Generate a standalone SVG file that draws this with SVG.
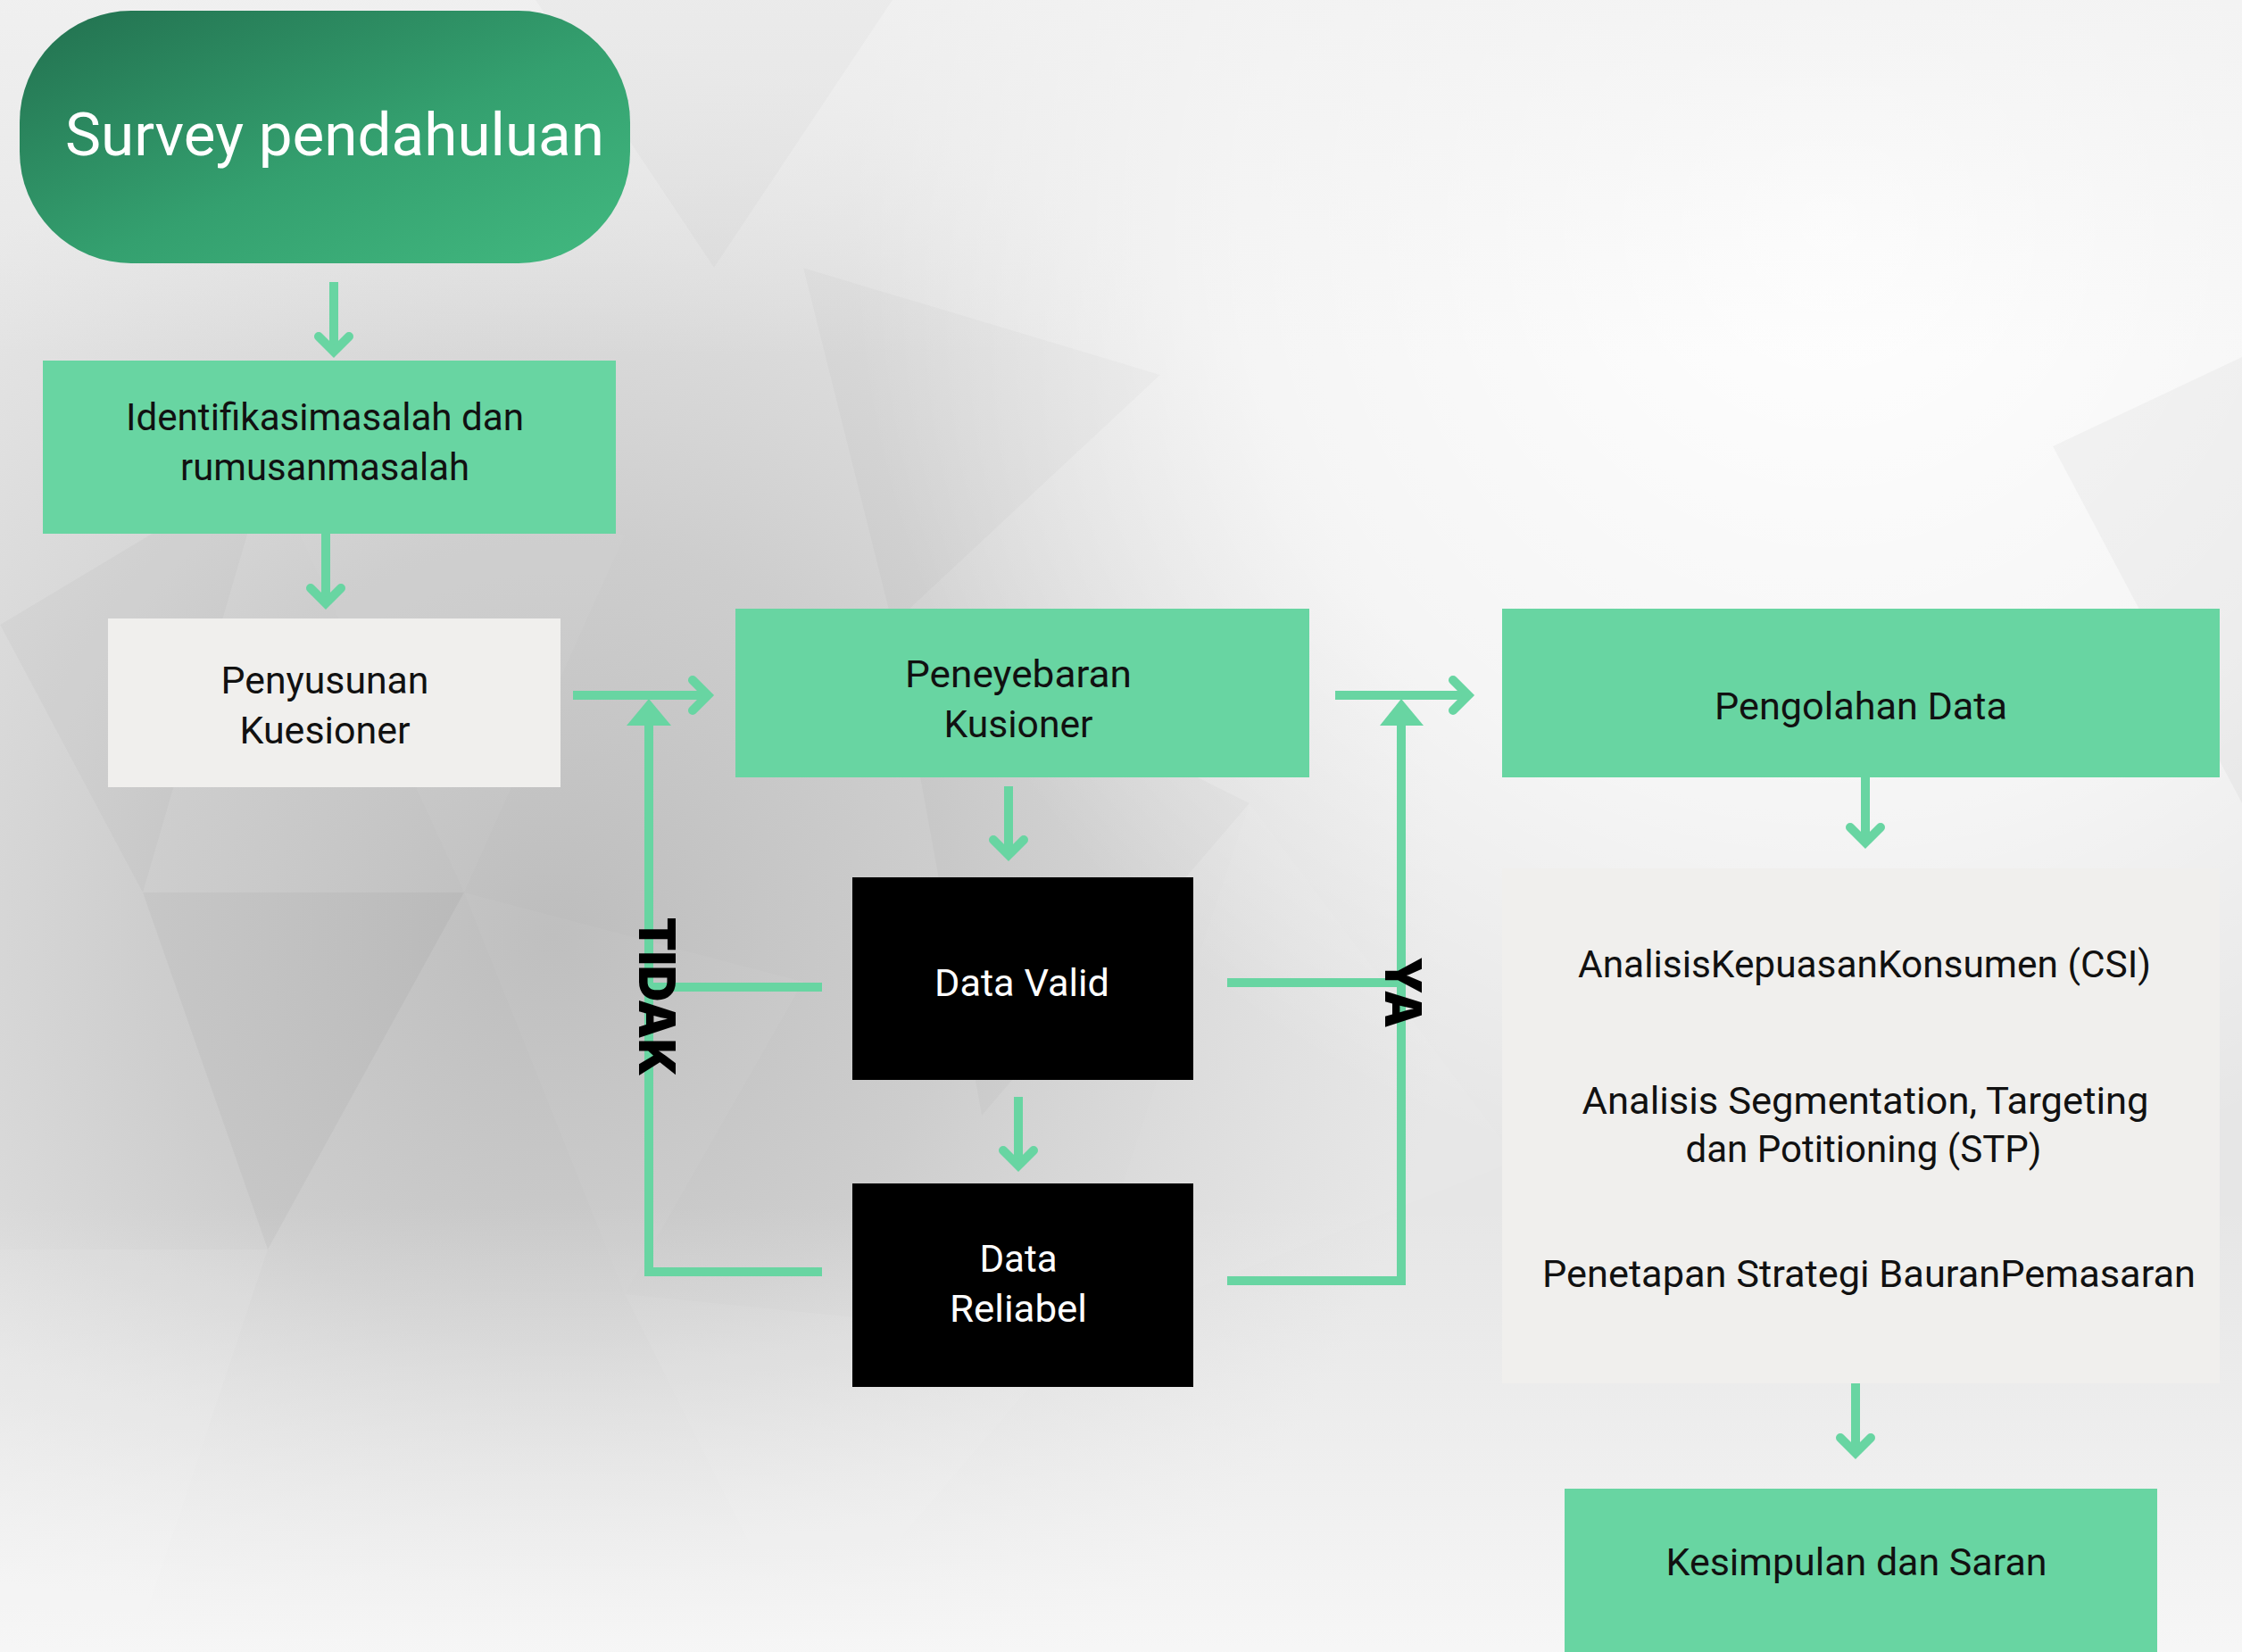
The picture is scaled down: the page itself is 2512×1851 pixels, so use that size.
<svg xmlns="http://www.w3.org/2000/svg" width="2512" height="1851" viewBox="0 0 2512 1851">
<defs>
<style>
.g{fill:#68D5A2}
.w{fill:#F0EFED}
.k{fill:#000000}
.t{font-family:Roboto,"Liberation Sans",sans-serif;font-size:42px;fill:#111111;text-anchor:middle}
.tw{fill:#ffffff}
.c{stroke:#68D5A2;stroke-width:10;fill:none}
.a{marker-end:url(#chev)}
.lbl{font-family:Inter,"Liberation Sans",Arial,sans-serif;font-weight:900;font-size:57px;fill:#000;text-anchor:middle}
.hd{fill:#68D5A2}
</style>
<marker id="chev" markerUnits="userSpaceOnUse" markerWidth="60" markerHeight="60" refX="0" refY="0" orient="auto" overflow="visible">
<path d="M -17 -17 L 0 0 L -17 17" fill="none" stroke="#68D5A2" stroke-width="10" stroke-linecap="round" stroke-linejoin="miter"/>
</marker>
<linearGradient id="pill" x1="0" y1="0" x2="1" y2="1">
<stop offset="0" stop-color="#22704F"/>
<stop offset="0.55" stop-color="#34A06F"/>
<stop offset="1" stop-color="#42B980"/>
</linearGradient>
<radialGradient id="dark" cx="620" cy="1050" r="1000" gradientUnits="userSpaceOnUse">
<stop offset="0" stop-color="#bdbdbd" stop-opacity="1"/>
<stop offset="0.45" stop-color="#c9c9c9" stop-opacity="0.85"/>
<stop offset="1" stop-color="#d0d0d0" stop-opacity="0"/>
</radialGradient>
<radialGradient id="light" cx="2050" cy="250" r="1100" gradientUnits="userSpaceOnUse">
<stop offset="0" stop-color="#ffffff" stop-opacity="1"/>
<stop offset="0.6" stop-color="#ffffff" stop-opacity="0.6"/>
<stop offset="1" stop-color="#ffffff" stop-opacity="0"/>
</radialGradient>
<linearGradient id="bottom" x1="0" y1="1350" x2="0" y2="1851" gradientUnits="userSpaceOnUse">
<stop offset="0" stop-color="#f4f4f4" stop-opacity="0"/>
<stop offset="1" stop-color="#f7f7f7" stop-opacity="0.95"/>
</linearGradient>
<linearGradient id="topl" x1="0" y1="0" x2="0" y2="400" gradientUnits="userSpaceOnUse">
<stop offset="0" stop-color="#f2f2f2" stop-opacity="0.8"/>
<stop offset="1" stop-color="#f2f2f2" stop-opacity="0"/>
</linearGradient>
</defs>

<g id="background">
<rect x="0" y="0" width="2512" height="1851" fill="#e6e6e6"/>
<rect x="0" y="0" width="2512" height="1851" fill="url(#dark)"/>
<rect x="0" y="0" width="2512" height="1851" fill="url(#light)"/>
<rect x="0" y="0" width="2512" height="1851" fill="url(#topl)"/>
<rect x="0" y="0" width="2512" height="1851" fill="url(#bottom)"/>
<polygon points="0,700 300,520 160,1000" fill="#000" fill-opacity="0.025"/>
<polygon points="300,520 700,600 520,1000" fill="#fff" fill-opacity="0.04"/>
<polygon points="160,1000 520,1000 300,1400" fill="#000" fill-opacity="0.03"/>
<polygon points="520,1000 900,1100 700,1450" fill="#fff" fill-opacity="0.04"/>
<polygon points="900,300 1300,420 1000,700" fill="#000" fill-opacity="0.02"/>
<polygon points="1300,420 1700,250 1600,650" fill="#fff" fill-opacity="0.06"/>
<polygon points="1000,700 1400,900 1100,1250" fill="#000" fill-opacity="0.02"/>
<polygon points="1400,900 1700,1300 1200,1500" fill="#fff" fill-opacity="0.05"/>
<polygon points="0,1400 300,1400 150,1851 0,1851" fill="#fff" fill-opacity="0.08"/>
<polygon points="700,1450 1200,1500 900,1851" fill="#fff" fill-opacity="0.06"/>
<polygon points="2300,500 2512,400 2512,900" fill="#000" fill-opacity="0.03"/>
<polygon points="600,0 1000,0 800,300" fill="#000" fill-opacity="0.02"/>
</g>

<g id="connectors">
<line class="c a" x1="374" y1="316" x2="374" y2="394"/>
<line class="c a" x1="365" y1="598" x2="365" y2="676"/>
<line class="c a" x1="642" y1="779" x2="793" y2="779"/>
<line class="c a" x1="1130" y1="881" x2="1130" y2="958"/>
<line class="c a" x1="1141" y1="1229" x2="1141" y2="1306"/>
<line class="c a" x1="1496" y1="779" x2="1645" y2="779"/>
<line class="c a" x1="2090" y1="871" x2="2090" y2="944"/>
<line class="c a" x1="2079" y1="1550" x2="2079" y2="1628"/>
<g id="tidak-loop">
<line class="c" x1="921" y1="1106" x2="727" y2="1106"/>
<polyline class="c" points="921,1425 727,1425 727,810"/>
<polygon class="hd" points="702,813 752,813 727,783"/>
</g>
<g id="ya-loop">
<line class="c" x1="1375" y1="1101" x2="1570" y2="1101"/>
<polyline class="c" points="1375,1435 1570,1435 1570,810"/>
<polygon class="hd" points="1546,813 1595,813 1570,783"/>
</g>
<text class="lbl" transform="translate(716,1117) rotate(90)" textLength="179" lengthAdjust="spacingAndGlyphs">TIDAK</text>
<text class="lbl" transform="translate(1552,1112) rotate(90)" textLength="80" lengthAdjust="spacingAndGlyphs">YA</text>
</g>

<g id="node-survey">
<rect x="22" y="12" width="684" height="283" rx="125" ry="125" fill="url(#pill)"/>
<text class="t tw" x="375" y="174" style="font-size:66px" textLength="604" lengthAdjust="spacingAndGlyphs">Survey pendahuluan</text>
</g>

<g id="node-identifikasi">
<rect class="g" x="48" y="404" width="642" height="194"/>
<text class="t" x="364" y="482" textLength="446" lengthAdjust="spacingAndGlyphs">Identifikasimasalah dan</text>
<text class="t" x="364" y="538" textLength="324" lengthAdjust="spacingAndGlyphs">rumusanmasalah</text>
</g>

<g id="node-penyusunan">
<rect class="w" x="121" y="693" width="507" height="189"/>
<text class="t" x="364" y="777" textLength="233" lengthAdjust="spacingAndGlyphs">Penyusunan</text>
<text class="t" x="364" y="833" textLength="191" lengthAdjust="spacingAndGlyphs">Kuesioner</text>
</g>

<g id="node-peneyebaran">
<rect class="g" x="824" y="682" width="643" height="189"/>
<text class="t" x="1141" y="770" textLength="254" lengthAdjust="spacingAndGlyphs">Peneyebaran</text>
<text class="t" x="1141" y="826" textLength="167" lengthAdjust="spacingAndGlyphs">Kusioner</text>
</g>

<g id="node-datavalid">
<rect class="k" x="955" y="983" width="382" height="227"/>
<text class="t tw" x="1145" y="1116" textLength="196" lengthAdjust="spacingAndGlyphs">Data Valid</text>
</g>

<g id="node-datareliabel">
<rect class="k" x="955" y="1326" width="382" height="228"/>
<text class="t tw" x="1141" y="1425" textLength="87" lengthAdjust="spacingAndGlyphs">Data</text>
<text class="t tw" x="1141" y="1481" textLength="154" lengthAdjust="spacingAndGlyphs">Reliabel</text>
</g>

<g id="node-pengolahan">
<rect class="g" x="1683" y="682" width="804" height="189"/>
<text class="t" x="2085" y="806" textLength="328" lengthAdjust="spacingAndGlyphs">Pengolahan Data</text>
</g>

<g id="node-analisis">
<rect class="w" x="1683" y="973" width="804" height="577"/>
<text class="t" x="2089" y="1095" textLength="642" lengthAdjust="spacingAndGlyphs">AnalisisKepuasanKonsumen (CSI)</text>
<text class="t" x="2090" y="1248" textLength="635" lengthAdjust="spacingAndGlyphs">Analisis Segmentation, Targeting</text>
<text class="t" x="2088" y="1302" textLength="399" lengthAdjust="spacingAndGlyphs">dan Potitioning (STP)</text>
<text class="t" x="2094" y="1442" textLength="732" lengthAdjust="spacingAndGlyphs">Penetapan Strategi BauranPemasaran</text>
</g>

<g id="node-kesimpulan">
<rect class="g" x="1753" y="1668" width="664" height="183"/>
<text class="t" x="2080" y="1765" textLength="427" lengthAdjust="spacingAndGlyphs">Kesimpulan dan Saran</text>
</g>
</svg>
